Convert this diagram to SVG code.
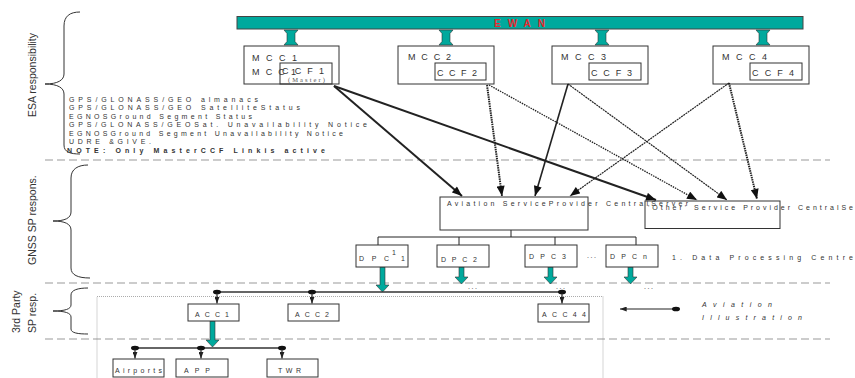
<svg xmlns="http://www.w3.org/2000/svg" width="855" height="378" viewBox="0 0 855 378">
<defs>
<style>
.t{font-family:"Liberation Sans",Arial,sans-serif;font-size:7px;fill:#333}
.tb{font-family:"Liberation Sans",Arial,sans-serif;font-size:9px;fill:#333}
.lab{font-family:"Liberation Sans",Arial,sans-serif;font-size:10.5px;fill:#333}
.box{fill:#fff;stroke:#333;stroke-width:1}
.ibox{fill:none;stroke:#333;stroke-width:1}
.dash{stroke:#999;stroke-width:1;stroke-dasharray:8,4;fill:none}
.brace{fill:none;stroke:#333;stroke-width:1}
.teal{fill:#00a99d;stroke:#333;stroke-width:0.6}
.ln{stroke:#222;fill:none}
.bus{stroke:#333;stroke-width:1.3;fill:none}
</style>
<marker id="ah" viewBox="0 0 10 8" refX="10" refY="4" markerWidth="11" markerHeight="8" markerUnits="userSpaceOnUse" orient="auto">
<path d="M0,0 L10,4 L0,8 Z" fill="#111"/>
</marker>
<marker id="ahs" viewBox="0 0 8 6" refX="8" refY="3" markerWidth="7" markerHeight="5" markerUnits="userSpaceOnUse" orient="auto">
<path d="M0,0 L8,3 L0,6 Z" fill="#222"/>
</marker>
<g id="dbl">
<path class="teal" d="M-7,0 L7,0 L4,3.5 L4,11.5 L7,15 L-7,15 L-4,11.5 L-4,3.5 Z"/>
</g>
</defs>
<rect width="855" height="378" fill="#fff"/>

<g id="sections">
<line class="dash" x1="45" y1="160" x2="830" y2="160"/>
<line class="dash" x1="45" y1="283" x2="830" y2="283"/>
<line class="dash" x1="45" y1="339" x2="830" y2="339"/>
<rect x="97" y="296.5" width="506" height="90" fill="none" stroke="#888" stroke-width="0.7" stroke-dasharray="1,1"/>
</g>

<g id="braces">
<path class="brace" d="M80,12 C70,12 64,16 64,26 L64,74 C64,80 58,84 45,84 C58,84 64,88 64,94 L64,145 C64,152 70,154 80,154"/>
<path class="brace" d="M88,165 C78,165 71,169 71,178 L71,212 C71,218 65,221 53,221 C65,221 71,224 71,230 L71,268 C71,275 78,278 90,278"/>
<path class="brace" d="M88,288 C78,288 71,290 71,295 L71,305 C71,309 65,311 53,311 C65,311 71,313 71,317 L71,329 C71,333 78,334 88,334"/>
<text class="lab" transform="translate(35.5,117) rotate(-90)">ESA responsibility</text>
<text class="lab" transform="translate(35.5,265) rotate(-90)">GNSS SP respons.</text>
<text class="lab" transform="translate(19.5,333) rotate(-90)">3rd Party</text>
<text class="lab" transform="translate(35.5,333) rotate(-90)">SP resp.</text>
</g>

<g id="ewan">
<rect x="237" y="16.5" width="566" height="12.5" fill="#00a99d" stroke="#444" stroke-width="1"/>
<text x="494" y="27" font-family="Liberation Sans,Arial,sans-serif" font-size="10" font-weight="bold" fill="#e8262d" textLength="51" lengthAdjust="spacing">EWAN</text>
<use href="#dbl" x="291" y="30"/>
<use href="#dbl" x="446" y="30"/>
<use href="#dbl" x="602" y="30"/>
<use href="#dbl" x="763" y="30"/>
</g>

<g id="mcc1">
<rect class="box" x="244" y="46" width="95" height="38"/>
<text class="tb" x="252" y="61" textLength="45" lengthAdjust="spacing">MCC1</text>
<text class="tb" x="252" y="75" textLength="44" lengthAdjust="spacing">MCC1</text>
<rect class="ibox" x="280" y="63" width="52" height="21"/>
<text class="tb" x="282" y="74" textLength="42" lengthAdjust="spacing">CCF1</text>
<text x="288" y="82" font-family="Liberation Serif,Times New Roman,serif" font-size="6.5" fill="#555" textLength="37" lengthAdjust="spacing">(Master)</text>
</g>
<g id="mcc2">
<rect class="box" x="398" y="46" width="96" height="38"/>
<text class="tb" x="408" y="60" textLength="43" lengthAdjust="spacing">MCC2</text>
<rect class="ibox" x="435" y="63" width="51" height="17"/>
<text class="tb" x="437" y="76" textLength="40" lengthAdjust="spacing">CCF2</text>
</g>
<g id="mcc3">
<rect class="box" x="552" y="46" width="96" height="38"/>
<text class="tb" x="561" y="60" textLength="45" lengthAdjust="spacing">MCC3</text>
<rect class="ibox" x="589" y="63" width="52" height="17"/>
<text class="tb" x="591" y="76" textLength="41" lengthAdjust="spacing">CCF3</text>
</g>
<g id="mcc4">
<rect class="box" x="713" y="46" width="96" height="38"/>
<text class="tb" x="722" y="60" textLength="45" lengthAdjust="spacing">MCC4</text>
<rect class="ibox" x="750" y="63" width="52" height="17"/>
<text class="tb" x="752" y="76" textLength="42" lengthAdjust="spacing">CCF4</text>
</g>

<g id="esa-notes">
<text class="t" x="69" y="101.5" textLength="189" lengthAdjust="spacing">GPS/GLONASS/GEO almanacs</text>
<text class="t" x="69" y="110" textLength="231" lengthAdjust="spacing">GPS/GLONASS/GEO SatelliteStatus</text>
<text class="t" x="69" y="118.5" textLength="183" lengthAdjust="spacing">EGNOSGround Segment Status</text>
<text class="t" x="69" y="127" textLength="298" lengthAdjust="spacing">GPS/GLONASS/GEOSat. Unavailability Notice</text>
<text class="t" x="69" y="135.5" textLength="274" lengthAdjust="spacing">EGNOSGround Segment Unavailability Notice</text>
<text class="t" x="69" y="144" textLength="82" lengthAdjust="spacing">UDRE &amp;GIVE.</text>
<text class="t" x="67" y="152.5" font-weight="bold" fill="#111" textLength="258" lengthAdjust="spacing">NOTE: Only MasterCCF Linkis active</text>
</g>

<g id="connectors">
<line class="ln" x1="334" y1="86" x2="462" y2="196" stroke-width="2" marker-end="url(#ah)"/>
<line class="ln" x1="334" y1="86" x2="656" y2="200" stroke-width="2" marker-end="url(#ah)"/>
<line class="ln" x1="487" y1="85" x2="502" y2="196" stroke-width="2" stroke-dasharray="1.5,0.8" marker-end="url(#ah)"/>
<line class="ln" x1="489" y1="85" x2="697" y2="200" stroke-width="1.3" stroke-dasharray="1.5,1" marker-end="url(#ah)"/>
<line class="ln" x1="568" y1="84" x2="535" y2="196" stroke-width="1.6" marker-end="url(#ah)"/>
<line class="ln" x1="568" y1="84" x2="727" y2="200" stroke-width="1.2" stroke-dasharray="2,0.7" marker-end="url(#ah)"/>
<line class="ln" x1="729" y1="83" x2="570" y2="196" stroke-width="1.2" stroke-dasharray="2,0.7" marker-end="url(#ah)"/>
<line class="ln" x1="729" y1="83" x2="757" y2="199" stroke-width="2" stroke-dasharray="1.5,0.8" marker-end="url(#ah)"/>
<path class="ln" stroke-width="1" d="M511,230 V237 M378,237 H636 M378,237 V245 M459,237 V245 M555,237 V245 M636,237 V245"/>
<path class="teal" d="M380,267 H385 V285 H389 L382.5,292 L376,285 H380 Z"/>
<path class="teal" d="M459,267 H464 V277 H468 L461.5,284 L455,277 H459 Z"/>
<path class="teal" d="M548,267 H553 V277 H557 L550.5,284 L544,277 H548 Z"/>
<path class="teal" d="M628,267 H633 V277 H637 L630.5,284 L624,277 H628 Z"/>
<line class="bus" x1="217" y1="292" x2="562" y2="292"/>
<ellipse cx="217" cy="292" rx="4" ry="2.3" fill="#111"/>
<ellipse cx="312" cy="292" rx="4" ry="2.3" fill="#111"/>
<ellipse cx="562" cy="292" rx="4" ry="2.3" fill="#111"/>
<line class="ln" stroke-width="1.2" x1="217" y1="293" x2="217" y2="303.5" marker-end="url(#ahs)"/>
<line class="ln" stroke-width="1.2" x1="312" y1="293" x2="312" y2="303.5" marker-end="url(#ahs)"/>
<line class="ln" stroke-width="1.2" x1="562" y1="293" x2="562" y2="303.5" marker-end="url(#ahs)"/>
<path class="teal" d="M210,321 H215 V340 H219 L212.5,347 L206,340 H210 Z"/>
<line class="bus" x1="135" y1="348" x2="282" y2="348"/>
<ellipse cx="135" cy="348" rx="4" ry="2.3" fill="#111"/>
<ellipse cx="201" cy="348" rx="4" ry="2.3" fill="#111"/>
<ellipse cx="282" cy="348" rx="4" ry="2.3" fill="#111"/>
<line class="ln" stroke-width="1.2" x1="135" y1="349" x2="135" y2="358.5" marker-end="url(#ahs)"/>
<line class="ln" stroke-width="1.2" x1="201" y1="349" x2="201" y2="358.5" marker-end="url(#ahs)"/>
<line class="ln" stroke-width="1.2" x1="282" y1="349" x2="282" y2="358.5" marker-end="url(#ahs)"/>
<line class="ln" stroke-width="1.2" x1="676" y1="309" x2="620" y2="309" marker-end="url(#ahs)"/>
<ellipse cx="676" cy="309" rx="4" ry="2.3" fill="#111"/>
</g>

<g id="aviation-sp">
<rect class="box" x="440" y="197" width="148" height="33"/>
</g>
<g id="other-sp">
<rect class="box" x="645" y="201" width="135" height="27.5"/>
</g>
<text class="t" x="447" y="206" textLength="241" lengthAdjust="spacing">Aviation ServiceProvider CentralServer</text>
<text class="t" x="648" y="210" textLength="229" lengthAdjust="spacing">'Other' Service Provider CentralServer</text>

<g id="dpc1">
<rect class="box" x="356" y="245" width="52" height="22"/>
<text class="t" x="359" y="261" textLength="30" lengthAdjust="spacing">DPC</text>
<text class="t" x="392" y="255" font-size="5.5">1</text>
<text class="t" x="401" y="261">1</text>
</g>
<g id="dpc2">
<rect class="box" x="437" y="245" width="52" height="22"/>
<text class="t" x="441" y="262" textLength="36" lengthAdjust="spacing">DPC2</text>
</g>
<g id="dpc3">
<rect class="box" x="525" y="245" width="52" height="22"/>
<text class="t" x="529" y="259" textLength="37" lengthAdjust="spacing">DPC3</text>
</g>
<text class="t" x="587" y="258" textLength="9" lengthAdjust="spacing">...</text>
<g id="dpcn">
<rect class="box" x="606" y="245" width="52" height="22"/>
<text class="t" x="610" y="259" textLength="37" lengthAdjust="spacing">DPCn</text>
</g>
<text class="t" x="672" y="260" textLength="181" lengthAdjust="spacing">1. Data Processing Centre</text>
<text class="t" x="468" y="289" textLength="9" lengthAdjust="spacing">...</text>
<text class="t" x="556" y="289" textLength="9" lengthAdjust="spacing">...</text>
<text class="t" x="644" y="289" textLength="9" lengthAdjust="spacing">...</text>

<g id="acc1">
<rect class="box" x="188" y="304" width="51" height="17"/>
<text class="t" x="195" y="317" textLength="34" lengthAdjust="spacing">ACC1</text>
</g>
<g id="acc2">
<rect class="box" x="288" y="304" width="51" height="17"/>
<text class="t" x="295" y="317" textLength="34" lengthAdjust="spacing">ACC2</text>
</g>
<g id="acc44">
<rect class="box" x="538" y="304" width="51" height="18"/>
<text class="t" x="542" y="317" textLength="44" lengthAdjust="spacing">ACC44</text>
</g>

<g id="airports">
<rect class="box" x="113" y="359" width="51" height="18"/>
<text class="t" x="115" y="373" textLength="47" lengthAdjust="spacing">Airports</text>
</g>
<g id="app">
<rect class="box" x="176" y="359" width="52" height="18"/>
<text class="t" x="184" y="373" textLength="26" lengthAdjust="spacing">APP</text>
</g>
<g id="twr">
<rect class="box" x="267" y="359" width="51" height="18"/>
<text class="t" x="278" y="373" textLength="23" lengthAdjust="spacing">TWR</text>
</g>

<g id="legend">
<text class="t" x="702" y="307" font-style="italic" font-size="8" textLength="70" lengthAdjust="spacing">Aviation</text>
<text class="t" x="702" y="320" font-style="italic" font-size="8" textLength="100" lengthAdjust="spacing">Illustration</text>
</g>
</svg>
